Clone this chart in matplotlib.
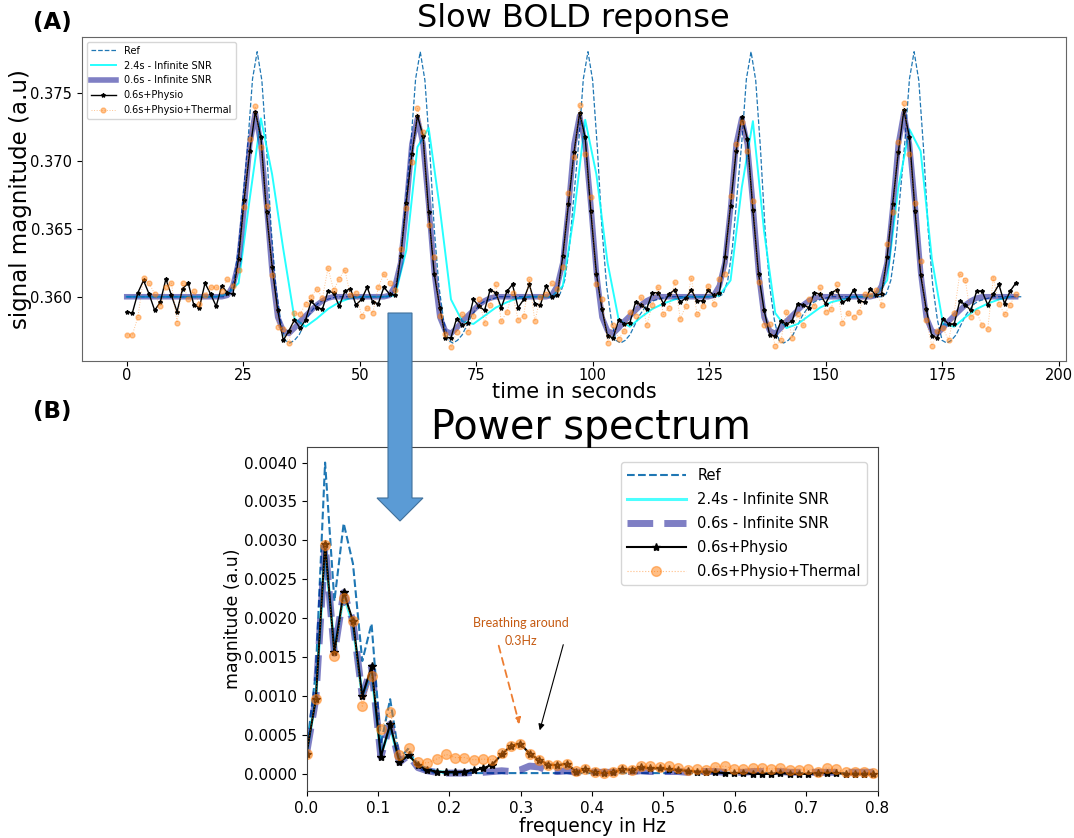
import numpy as np
import matplotlib
matplotlib.use("Agg")
import matplotlib.pyplot as plt
from matplotlib.patches import Polygon

# ---------------- Panel A : time courses ----------------
REF_STEP = 1.0      # s
TR_FAST = 1.2       # s (plotted samples of the 0.6 s series)
TR_SLOW = 2.4       # s

REF_SIGNAL = [
    0.3600, 0.3600, 0.3600, 0.3600, 0.3600, 0.3600, 0.3600, 0.3600, 0.3600, 0.3600, 0.3600,
    0.3600, 0.3600, 0.3600, 0.3600, 0.3600, 0.3600, 0.3600, 0.3600, 0.3600, 0.3600,
    0.3600, 0.3602, 0.3612, 0.3636, 0.3675, 0.3713, 0.3760, 0.3780, 0.3759, 0.3710, 0.3650, 0.3608,
    0.3583, 0.3568, 0.3566, 0.3568, 0.3572, 0.3579, 0.3586, 0.3591, 0.3595, 0.3597, 0.3598, 0.3599, 0.3600,
    0.3600, 0.3600, 0.3600, 0.3600, 0.3600, 0.3600, 0.3600, 0.3600, 0.3600, 0.3600,
    0.3600, 0.3602, 0.3612, 0.3636, 0.3675, 0.3713, 0.3760, 0.3780, 0.3759, 0.3710, 0.3650, 0.3608,
    0.3583, 0.3568, 0.3566, 0.3568, 0.3572, 0.3579, 0.3586, 0.3591, 0.3595, 0.3597, 0.3598, 0.3599, 0.3600,
    0.3600, 0.3600, 0.3600, 0.3600, 0.3600, 0.3600, 0.3600, 0.3600, 0.3600, 0.3600, 0.3600,
    0.3600, 0.3602, 0.3612, 0.3636, 0.3675, 0.3713, 0.3760, 0.3780, 0.3759, 0.3710, 0.3650, 0.3608,
    0.3583, 0.3568, 0.3566, 0.3568, 0.3572, 0.3579, 0.3586, 0.3591, 0.3595, 0.3597, 0.3598, 0.3599, 0.3600,
    0.3600, 0.3600, 0.3600, 0.3600, 0.3600, 0.3600, 0.3600, 0.3600, 0.3600, 0.3600,
    0.3600, 0.3602, 0.3612, 0.3636, 0.3675, 0.3713, 0.3760, 0.3780, 0.3759, 0.3710, 0.3650, 0.3608,
    0.3583, 0.3568, 0.3566, 0.3568, 0.3572, 0.3579, 0.3586, 0.3591, 0.3595, 0.3597, 0.3598, 0.3599, 0.3600,
    0.3600, 0.3600, 0.3600, 0.3600, 0.3600, 0.3600, 0.3600, 0.3600, 0.3600, 0.3600,
    0.3600, 0.3602, 0.3612, 0.3636, 0.3675, 0.3713, 0.3760, 0.3780, 0.3759, 0.3710, 0.3650, 0.3608,
    0.3583, 0.3568, 0.3566, 0.3568, 0.3572, 0.3579, 0.3586, 0.3591, 0.3595, 0.3597, 0.3598, 0.3599, 0.3600,
    0.3600, 0.3600, 0.3600, 0.3600, 0.3600, 0.3600,
]

SIG_24_INF = [
    0.3600, 0.3600, 0.3600, 0.3600, 0.3600, 0.3600, 0.3600, 0.3600, 0.3600,
    0.3602, 0.3610, 0.3672, 0.3731, 0.3690, 0.3635, 0.3584, 0.3578, 0.3584, 0.3591, 0.3596, 0.3599,
    0.3600, 0.3600, 0.3600, 0.3601, 0.3634, 0.3710, 0.3724, 0.3665, 0.3598, 0.3582, 0.3580, 0.3586,
    0.3592, 0.3596, 0.3599, 0.3600, 0.3600, 0.3600, 0.3608, 0.3660, 0.3730, 0.3690, 0.3625, 0.3583,
    0.3578, 0.3585, 0.3591, 0.3595, 0.3598, 0.3600, 0.3600, 0.3600, 0.3601, 0.3612, 0.3680, 0.3729,
    0.3648, 0.3588, 0.3577, 0.3580, 0.3586, 0.3592, 0.3596, 0.3598, 0.3600, 0.3600, 0.3601, 0.3612,
    0.3680, 0.3723, 0.3707, 0.3628, 0.3580, 0.3578, 0.3585, 0.3591, 0.3595, 0.3598, 0.3600,
]

SIG_06_INF = [
    0.3600, 0.3600, 0.3600, 0.3600, 0.3600, 0.3600, 0.3600, 0.3600, 0.3600,
    0.3600, 0.3600, 0.3600, 0.3600, 0.3600, 0.3600, 0.3600, 0.3600,
    0.3600, 0.3601, 0.3608, 0.3625, 0.3665, 0.3712, 0.3735, 0.3712, 0.3668, 0.3618, 0.3585,
    0.3575, 0.3573, 0.3577, 0.3582, 0.3586, 0.3590, 0.3594, 0.3597, 0.3599, 0.3600,
    0.3600, 0.3600, 0.3600, 0.3600, 0.3600, 0.3600, 0.3600, 0.3600,
    0.3600, 0.3601, 0.3608, 0.3625, 0.3665, 0.3712, 0.3731, 0.3712, 0.3668, 0.3618, 0.3585,
    0.3575, 0.3573, 0.3577, 0.3582, 0.3586, 0.3590, 0.3594, 0.3597, 0.3599, 0.3600,
    0.3600, 0.3600, 0.3600, 0.3600, 0.3600, 0.3600, 0.3600, 0.3600,
    0.3600, 0.3601, 0.3608, 0.3625, 0.3665, 0.3712, 0.3733, 0.3712, 0.3668, 0.3618, 0.3585,
    0.3575, 0.3573, 0.3577, 0.3582, 0.3586, 0.3590, 0.3594, 0.3597, 0.3599, 0.3600,
    0.3600, 0.3600, 0.3600, 0.3600, 0.3600, 0.3600, 0.3600, 0.3600,
    0.3600, 0.3601, 0.3608, 0.3625, 0.3665, 0.3712, 0.3731, 0.3712, 0.3668, 0.3618, 0.3585,
    0.3575, 0.3573, 0.3577, 0.3582, 0.3586, 0.3590, 0.3594, 0.3597, 0.3599, 0.3600,
    0.3600, 0.3600, 0.3600, 0.3600, 0.3600, 0.3600, 0.3600, 0.3600,
    0.3600, 0.3601, 0.3608, 0.3625, 0.3665, 0.3712, 0.3735, 0.3712, 0.3668, 0.3618, 0.3585,
    0.3575, 0.3573, 0.3577, 0.3582, 0.3586, 0.3590, 0.3594, 0.3597, 0.3599, 0.3600,
    0.3600, 0.3600, 0.3600, 0.3600, 0.3600, 0.3600,
]

SIG_06_PHYSIO = [
    0.3589, 0.3588, 0.3603, 0.3612, 0.3602, 0.3590, 0.3596, 0.3613, 0.3601,
    0.3589, 0.3606, 0.3610, 0.3594, 0.3592, 0.3610, 0.3602, 0.3593,
    0.3608, 0.3603, 0.3602, 0.3628, 0.3671, 0.3707, 0.3736, 0.3717, 0.3662, 0.3622, 0.3590,
    0.3568, 0.3575, 0.3583, 0.3577, 0.3583, 0.3597, 0.3592, 0.3591, 0.3604, 0.3603,
    0.3593, 0.3604, 0.3606, 0.3594, 0.3598, 0.3607, 0.3596, 0.3595,
    0.3607, 0.3602, 0.3601, 0.3630, 0.3669, 0.3705, 0.3733, 0.3718, 0.3662, 0.3617, 0.3592,
    0.3570, 0.3570, 0.3584, 0.3579, 0.3581, 0.3598, 0.3593, 0.3590, 0.3605, 0.3603,
    0.3592, 0.3604, 0.3609, 0.3592, 0.3598, 0.3609, 0.3595, 0.3594,
    0.3608, 0.3600, 0.3601, 0.3630, 0.3668, 0.3706, 0.3735, 0.3717, 0.3663, 0.3617, 0.3591,
    0.3571, 0.3570, 0.3583, 0.3580, 0.3581, 0.3596, 0.3594, 0.3591, 0.3603, 0.3603,
    0.3595, 0.3602, 0.3605, 0.3596, 0.3599, 0.3605, 0.3597, 0.3597,
    0.3605, 0.3601, 0.3603, 0.3629, 0.3667, 0.3707, 0.3732, 0.3716, 0.3664, 0.3617, 0.3590,
    0.3572, 0.3571, 0.3582, 0.3580, 0.3582, 0.3595, 0.3594, 0.3592, 0.3603, 0.3602,
    0.3595, 0.3603, 0.3605, 0.3596, 0.3598, 0.3605, 0.3597, 0.3596,
    0.3606, 0.3601, 0.3602, 0.3629, 0.3668, 0.3706, 0.3737, 0.3717, 0.3663, 0.3616, 0.3591,
    0.3571, 0.3570, 0.3584, 0.3580, 0.3580, 0.3597, 0.3594, 0.3590, 0.3604, 0.3604,
    0.3594, 0.3602, 0.3609, 0.3595, 0.3604, 0.3610,
]

SIG_06_THERMAL = [
    0.3572, 0.3572, 0.3585, 0.3614, 0.3610, 0.3602, 0.3593, 0.3607, 0.3610,
    0.3581, 0.3610, 0.3598, 0.3604, 0.3595, 0.3601, 0.3607, 0.3607,
    0.3604, 0.3613, 0.3608, 0.3620, 0.3666, 0.3716, 0.3740, 0.3710, 0.3667, 0.3616, 0.3578,
    0.3576, 0.3566, 0.3588, 0.3587, 0.3595, 0.3600, 0.3606, 0.3599, 0.3621, 0.3605,
    0.3613, 0.3620, 0.3601, 0.3603, 0.3586, 0.3592, 0.3588, 0.3607,
    0.3617, 0.3610, 0.3605, 0.3635, 0.3665, 0.3699, 0.3739, 0.3721, 0.3653, 0.3629, 0.3586,
    0.3573, 0.3563, 0.3574, 0.3587, 0.3574, 0.3586, 0.3598, 0.3581, 0.3594, 0.3609,
    0.3582, 0.3589, 0.3603, 0.3583, 0.3586, 0.3613, 0.3582, 0.3600,
    0.3602, 0.3610, 0.3606, 0.3622, 0.3676, 0.3703, 0.3741, 0.3705, 0.3673, 0.3609, 0.3598,
    0.3566, 0.3579, 0.3569, 0.3575, 0.3589, 0.3586, 0.3600, 0.3579, 0.3594, 0.3607,
    0.3587, 0.3592, 0.3611, 0.3584, 0.3593, 0.3614, 0.3587, 0.3593,
    0.3608, 0.3595, 0.3613, 0.3617, 0.3674, 0.3712, 0.3728, 0.3707, 0.3670, 0.3611, 0.3579,
    0.3580, 0.3564, 0.3568, 0.3589, 0.3570, 0.3587, 0.3579, 0.3598, 0.3593, 0.3607,
    0.3589, 0.3591, 0.3609, 0.3581, 0.3588, 0.3585, 0.3589, 0.3602,
    0.3601, 0.3605, 0.3594, 0.3639, 0.3662, 0.3714, 0.3742, 0.3705, 0.3669, 0.3626, 0.3583,
    0.3564, 0.3575, 0.3577, 0.3568, 0.3588, 0.3617, 0.3612, 0.3585, 0.3589, 0.3579,
    0.3576, 0.3614, 0.3595, 0.3587, 0.3594, 0.3602,
]

# ---------------- Panel B : power spectra ----------------
FREQ_STEP = 1 / 76.8   # Hz

PSD_REF = [
    0.00030, 0.00130, 0.00400, 0.00222, 0.00322, 0.00270, 0.00145, 0.00193, 0.00038, 0.00096,
    0.00020, 0.00033, 0.00007, 0.00003, 0.00001, 0.00001, 0.00001, 0.00001, 0.00001, 0.00001,
    0.00001, 0.00001, 0.00001, 0.00001, 0.00001, 0.00001, 0.00001, 0.00001, 0.00001, 0.00001,
    0.00001, 0.00001, 0.00001, 0.00001, 0.00001, 0.00001, 0.00001, 0.00001, 0.00001, 0.00001,
    0.00001, 0.00001, 0.00001, 0.00001, 0.00001, 0.00001, 0.00001, 0.00001, 0.00001, 0.00001,
    0.00001, 0.00001, 0.00001, 0.00001, 0.00001, 0.00001, 0.00001, 0.00001, 0.00001, 0.00001,
    0.00001, 0.00001,
]

PSD_24_INF = [
    0.00026, 0.00098, 0.00292, 0.00158, 0.00230, 0.00192, 0.00100, 0.00132, 0.00025, 0.00060,
    0.00016, 0.00024, 0.00012, 0.00006, 0.00003, 0.00002, 0.00002,
]

PSD_06_INF = [
    0.00026, 0.00096, 0.00295, 0.00155, 0.00233, 0.00196, 0.00100, 0.00137, 0.00022, 0.00064,
    0.00015, 0.00024, 0.00008, 0.00004, 0.00002, 0.00001, 0.00001, 0.00001, 0.00002, 0.00002,
    0.00003, 0.00004, 0.00003, 0.00005, 0.00010, 0.00009, 0.00004, 0.00003, 0.00004, 0.00002,
    0.00003, 0.00002, 0.00002, 0.00002, 0.00003, 0.00003, 0.00004, 0.00003, 0.00003, 0.00003,
    0.00003, 0.00002, 0.00003, 0.00003, 0.00003, 0.00002, 0.00002, 0.00002, 0.00003, 0.00003,
    0.00003, 0.00003, 0.00002, 0.00002, 0.00002, 0.00002, 0.00002, 0.00002, 0.00002, 0.00002,
    0.00002, 0.00002,
]

PSD_06_PHYSIO = [
    0.00026, 0.00096, 0.00296, 0.00156, 0.00234, 0.00196, 0.00100, 0.00138, 0.00022, 0.00064,
    0.00015, 0.00024, 0.00011, 0.00005, 0.00003, 0.00002, 0.00002, 0.00003, 0.00005, 0.00007,
    0.00012, 0.00025, 0.00036, 0.00039, 0.00026, 0.00018, 0.00012, 0.00011, 0.00013, 0.00003,
    0.00006, 0.00002, 0.00001, 0.00002, 0.00006, 0.00005, 0.00009, 0.00007, 0.00007, 0.00006,
    0.00005, 0.00004, 0.00003, 0.00003, 0.00002, 0.00001, 0.00001, 0.00001, 0.00000, 0.00000,
    0.00000, 0.00001, 0.00000, 0.00000, 0.00000, 0.00001, 0.00001, 0.00001, 0.00000, 0.00000,
    0.00000, 0.00000,
]

PSD_06_THERMAL = [
    0.00026, 0.00096, 0.00294, 0.00152, 0.00226, 0.00196, 0.00087, 0.00126, 0.00058, 0.00080,
    0.00024, 0.00033, 0.00015, 0.00014, 0.00019, 0.00025, 0.00021, 0.00021, 0.00018, 0.00019,
    0.00018, 0.00027, 0.00036, 0.00039, 0.00026, 0.00018, 0.00012, 0.00011, 0.00013, 0.00004,
    0.00006, 0.00002, 0.00001, 0.00003, 0.00006, 0.00005, 0.00010, 0.00010, 0.00009, 0.00010,
    0.00007, 0.00005, 0.00006, 0.00005, 0.00009, 0.00010, 0.00006, 0.00006, 0.00007, 0.00008,
    0.00006, 0.00008, 0.00005, 0.00005, 0.00006, 0.00002, 0.00008, 0.00006, 0.00002, 0.00002,
    0.00002, 0.00001,
]

LABELS = ['Ref', '2.4s - Infinite SNR', '0.6s - Infinite SNR', '0.6s+Physio', '0.6s+Physio+Thermal']

# ---------------- figure ----------------
W, H = 1074, 838
fig = plt.figure(figsize=(W / 100, H / 100), dpi=100)


def fx(px):
    return px / W


def fy(py):
    return 1 - py / H


ax1 = fig.add_axes([fx(82), fy(361), fx(1066) - fx(82), fy(37) - fy(361)])
ax2 = fig.add_axes([fx(306.5), fy(791), fx(877.5) - fx(306.5), fy(447) - fy(791)])

t_ref = np.arange(len(REF_SIGNAL)) * REF_STEP
t_fast = np.arange(len(SIG_06_INF)) * TR_FAST
t_slow = np.arange(len(SIG_24_INF)) * TR_SLOW

ax1.plot(t_ref, REF_SIGNAL, ls='--', color='#1f77b4', lw=0.9, label=LABELS[0])
ax1.plot(t_slow, SIG_24_INF, color='cyan', lw=1.4, alpha=0.85, label=LABELS[1])
ax1.plot(t_fast, SIG_06_INF, color='darkblue', alpha=0.5, lw=4, label=LABELS[2])
ax1.plot(t_fast, SIG_06_PHYSIO, color='black', marker='*', ms=3, lw=1.0, label=LABELS[3])
ax1.plot(t_fast, SIG_06_THERMAL, color='#ff7f0e', marker='o', ms=3.5, lw=0.7, ls=':',
         alpha=0.45, label=LABELS[4])

ax1.set_xlim(-9.6, 201.6)
ax1.set_ylim(0.35528, 0.37908)
ax1.set_xticks(np.arange(0, 201, 25))
ax1.set_yticks([0.360, 0.365, 0.370, 0.375])
ax1.yaxis.set_major_formatter(matplotlib.ticker.FormatStrFormatter('%.3f'))
ax1.tick_params(labelsize=10.5)
ax1.tick_params(axis='x', pad=1.5)
ax1.set_xlabel('time in seconds', fontsize=15, labelpad=-1)
ax1.set_ylabel('signal magnitude (a.u)', fontsize=16.5, labelpad=-1)
ax1.legend(loc='upper left', fontsize=7, handlelength=2.6, borderaxespad=0.5)
for s in ax1.spines.values():
    s.set_color('#666666')

f_fast = np.arange(len(PSD_06_INF)) * FREQ_STEP
f_slow = np.arange(len(PSD_24_INF)) * FREQ_STEP
f_ref = np.arange(len(PSD_REF)) * FREQ_STEP

ax2.plot(f_ref, PSD_REF, ls='--', color='#1f77b4', lw=1.5, label=LABELS[0])
ax2.plot(f_slow, PSD_24_INF, color='cyan', lw=2.2, alpha=0.7, label=LABELS[1])
ax2.plot(f_fast, PSD_06_INF, color='darkblue', alpha=0.5, lw=5, ls='--', label=LABELS[2])
ax2.plot(f_fast, PSD_06_PHYSIO, color='black', marker='*', ms=6, lw=1.5, label=LABELS[3])
ax2.plot(f_fast, PSD_06_THERMAL, color='#ff7f0e', marker='o', ms=7, lw=0.8, ls=':',
         alpha=0.5, label=LABELS[4])

ax2.set_xlim(0, 0.8)
ax2.set_ylim(-0.00022, 0.0042)
ax2.set_xticks(np.arange(0, 0.81, 0.1))
ax2.set_yticks(np.arange(0, 0.00401, 0.0005))
ax2.yaxis.set_major_formatter(matplotlib.ticker.FormatStrFormatter('%.4f'))
ax2.xaxis.set_major_formatter(matplotlib.ticker.FormatStrFormatter('%.1f'))
ax2.tick_params(labelsize=11)
ax2.set_xlabel('frequency in Hz', fontsize=13.5, labelpad=1)
ax2.set_ylabel('magnitude (a.u)', fontsize=12.5, labelpad=1)
ax2.legend(loc='upper right', bbox_to_anchor=(0.981, 0.956), borderaxespad=0,
           fontsize=10.5, handlelength=4.0, labelspacing=0.62)
for s in ax2.spines.values():
    s.set_color('#444444')

# titles and panel labels
fig.text(fx(573), fy(19), 'Slow BOLD reponse', fontsize=23, ha='center', va='center')
fig.text(fx(591), fy(428), 'Power spectrum', fontsize=28.5, ha='center', va='center')
fig.text(fx(52), fy(23), '(A)', fontsize=16.5, fontweight='bold', ha='center', va='center')
fig.text(fx(52), fy(411), '(B)', fontsize=16.5, fontweight='bold', ha='center', va='center')

# big blue arrow linking the panels
arrow_px = [(388, 313), (412, 313), (412, 498), (423, 498), (400, 521), (377, 498), (388, 498)]
arrow = Polygon([(fx(x), fy(y)) for x, y in arrow_px], closed=True, transform=fig.transFigure,
                facecolor='#5b9bd5', edgecolor='#41719c', lw=0.8, zorder=20)
fig.add_artist(arrow)

# breathing annotation
fig.text(fx(521), fy(632), 'Breathing around\n0.3Hz', color='#c55a11', fontsize=9,
         family='Lato', ha='center', va='center', linespacing=1.55)
fig.add_artist(matplotlib.patches.FancyArrowPatch(
    (fx(498), fy(643)), (fx(520), fy(727)), transform=fig.transFigure,
    arrowstyle='-|>', mutation_scale=9, color='#ed7d31', lw=1.3, ls=(0, (4, 3))))
fig.add_artist(matplotlib.patches.FancyArrowPatch(
    (fx(564), fy(642)), (fx(539), fy(733)), transform=fig.transFigure,
    arrowstyle='-|>', mutation_scale=9, color='black', lw=0.8))

fig.savefig('out.png', dpi=100)
